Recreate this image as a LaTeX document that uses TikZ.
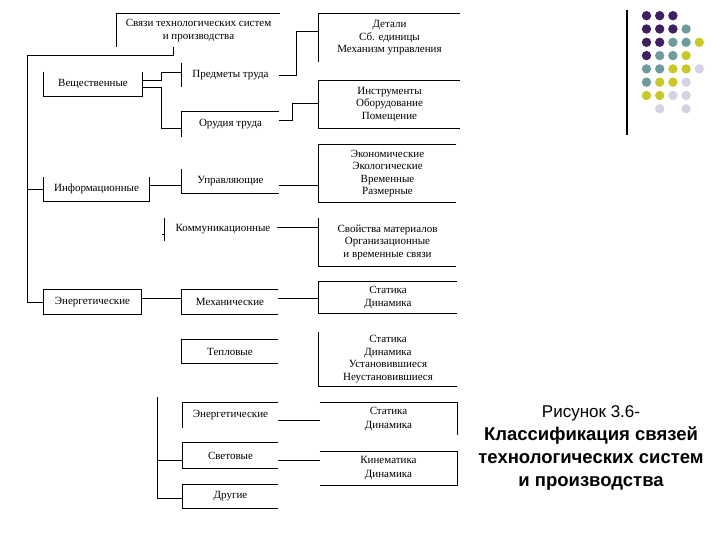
\documentclass[tikz,border=0pt]{standalone}
\usepackage{fontspec}
\setmainfont{Liberation Serif}
\newfontfamily\capfont{Liberation Sans}
\definecolor{dpurple}{HTML}{3F1F5F}
\definecolor{dteal}{HTML}{6E9C9E}
\definecolor{dyellow}{HTML}{C9C82A}
\definecolor{dlav}{HTML}{D3D3E3}
\begin{document}
\begin{tikzpicture}[x=1pt,y=-1pt,line width=0.9pt,
  bx/.style={inner sep=0pt,align=center,font=\fontsize{11}{12.5}\selectfont},
  bxw/.style={inner sep=0pt,align=center,font=\fontsize{11}{14}\selectfont},
  captext/.style={inner sep=0pt,align=center,font=\capfont\fontsize{17}{23}\selectfont}]
\useasboundingbox (0,0) rectangle (720,540);

% boxes
\node[bx,minimum width=163,minimum height=33] (top) at (198.5,30.5) {Связи технологических систем\\и производства};
\node[bx,minimum width=141,minimum height=48] (det) at (389.5,38) {Детали\\Сб. единицы\\Механизм управления};
\node[bx,minimum width=98,minimum height=24] (vesh) at (93,84) {Вещественные};
\node[bx,minimum width=97,minimum height=24] (pred) at (230.5,75) {Предметы труда};
\node[bx,minimum width=97,minimum height=25] (orud) at (230.5,124.5) {Орудия труда};
\node[bx,minimum width=141,minimum height=47] (instr) at (389.5,104.5) {Инструменты\\Оборудование\\Помещение};
\node[bx,minimum width=105,minimum height=24] (inf) at (96.5,189) {Информационные};
\node[bx,minimum width=97,minimum height=24] (upr) at (230.5,181) {Управляющие};
\node[bx,minimum width=116,minimum height=23] (komm) at (223,229.5) {Коммуникационные};
\node[bx,minimum width=137,minimum height=57] (econ) at (387.5,173.5) {Экономические\\Экологические\\Временные\\Размерные};
\node[bx,minimum width=137,minimum height=48] (svoj) at (387.5,242) {Свойства материалов\\Организационные\\и временные связи};
\node[bx,minimum width=97,minimum height=24] (energ) at (92.5,302) {Энергетические};
\node[bx,minimum width=96,minimum height=24] (mech) at (230,302) {Механические};
\node[bx,minimum width=138,minimum height=31] (stat1) at (388,297.5) {Статика\\Динамика};
\node[bx,minimum width=96,minimum height=23] (tepl) at (230,351.5) {Тепловые};
\node[bx,minimum width=138,minimum height=54] (stat2) at (388,359) {Статика\\Динамика\\Установившиеся\\Неустановившиеся};
\node[bx,minimum width=95,minimum height=25] (energ2) at (230.5,415.5) {Энергетические};
\node[bxw,minimum width=137,minimum height=32] (stat3) at (388.5,419) {Статика\\Динамика};
\node[bx,minimum width=95,minimum height=25] (svet) at (230.5,455.5) {Световые};
\node[bxw,minimum width=137,minimum height=33] (kin) at (388.5,468.5) {Кинематика\\Динамика};
\node[bx,minimum width=95,minimum height=23] (drug) at (230.5,496.5) {Другие};

% visible box sides
\draw (top.south west) -- (top.north west) -- (top.north east);
\draw (det.south west) -- (det.north west) -- (det.north east);
\draw (vesh.north west) -- (vesh.south west) -- (vesh.south east) -- (vesh.north east);
\draw (pred.north west) -- (pred.south west);
\draw (orud.south west) -- (orud.north west) -- (orud.north east);
\draw (instr.north east) -- (instr.north west) -- (instr.south west) -- (instr.south east);
\draw (inf.north west) -- (inf.south west) -- (inf.south east) -- (inf.north east);
\draw (upr.north west) -- (upr.south west) -- (upr.south east);
\draw (komm.north west) -- (komm.south west);
\draw (econ.north east) -- (econ.north west) -- (econ.south west) -- (econ.south east);
\draw (svoj.north west) -- (svoj.south west) -- (svoj.south east);
\draw (energ.north west) rectangle (energ.south east);
\draw (mech.north east) -- (mech.north west) -- (mech.south west) -- (mech.south east);
\draw (stat1.north east) -- (stat1.north west) -- (stat1.south west) -- (stat1.south east);
\draw (tepl.north east) -- (tepl.north west) -- (tepl.south west) -- (tepl.south east);
\draw (stat2.north west) -- (stat2.south west) -- (stat2.south east);
\draw (energ2.south west) -- (energ2.north west) -- (energ2.north east);
\draw (stat3.north west) -- (stat3.north east) -- (stat3.south east);
\draw (svet.north east) -- (svet.north west) -- (svet.south west) -- (svet.south east);
\draw (kin.north west) -- (kin.north east) -- (kin.south east) -- (kin.south west);
\draw (drug.north east) -- (drug.north west) -- (drug.south west) -- (drug.south east);

% connectors
\coordinate (t1) at (173,55);
\coordinate (t2) at (27,55);
\draw (t1 |- top.south) -- (t1) -- (t2) |- (energ.west);
\draw (t2 |- inf.west) -- (inf.west);
\draw ([yshift=4pt]vesh.east) -- ++(19,0) |- ([yshift=3pt]pred.west);
\draw ([yshift=-3pt]vesh.east) -- ++(19,0) |- ([yshift=-3.5pt]orud.west);
\draw (pred.east) -- ++(17,0) |- ([yshift=7pt]det.west);
\draw ([yshift=4.5pt]orud.east) -- ++(13,0) |- ([yshift=1.5pt]instr.west);
\coordinate (u) at ([yshift=-4pt]upr.west);
\draw (u -| inf.east) -- (u);
\draw (u -| upr.east) -- (u -| econ.west);
\draw ([yshift=-4.5pt]komm.west) -- ++(-3,0);
\coordinate (kk) at ([yshift=2.5pt]komm.east);
\draw ([xshift=-4pt]kk) -- (kk -| svoj.west);
\coordinate (em) at ([yshift=4pt]energ.east);
\draw (em) -- (em -| mech.west);
\draw (em -| mech.east) -- (em -| stat1.west);
\coordinate (lt) at (157,397);
\coordinate (sv) at ([yshift=-4.5pt]svet.west);
\draw (lt) |- ([yshift=-1.5pt]drug.west);
\draw (sv -| lt) -- (sv);
\draw (sv -| svet.east) -- (sv -| kin.west);
\coordinate (e2) at ([yshift=-4.5pt]energ2.east);
\draw (e2) -- (e2 -| stat3.west);

% caption
\node[captext] (capt) at (591,448) {Рисунок 3.6-\\{\fontsize{18.5}{23}\selectfont\bfseries Классификация связей}\\{\fontsize{18.5}{23}\selectfont\bfseries технологических систем}\\{\fontsize{18.5}{23}\selectfont\bfseries и производства}};

% decoration
\draw[line width=1.1pt] (627,10) -- (627,135);
\foreach \c/\r/\col in {1/1/dpurple,2/1/dpurple,3/1/dpurple,1/2/dpurple,2/2/dpurple,3/2/dpurple,1/3/dpurple,2/3/dpurple,1/4/dpurple,
  4/2/dteal,3/3/dteal,4/3/dteal,2/4/dteal,3/4/dteal,1/5/dteal,2/5/dteal,1/6/dteal,
  5/3/dyellow,4/4/dyellow,3/5/dyellow,4/5/dyellow,2/6/dyellow,3/6/dyellow,1/7/dyellow,2/7/dyellow,
  5/5/dlav,4/6/dlav,3/7/dlav,4/7/dlav,2/8/dlav,4/8/dlav}
  \fill[\col] ({646.5+13.2*(\c-1)},{15.7+13.3*(\r-1)}) circle[radius=4.7];
\end{tikzpicture}
\end{document}
